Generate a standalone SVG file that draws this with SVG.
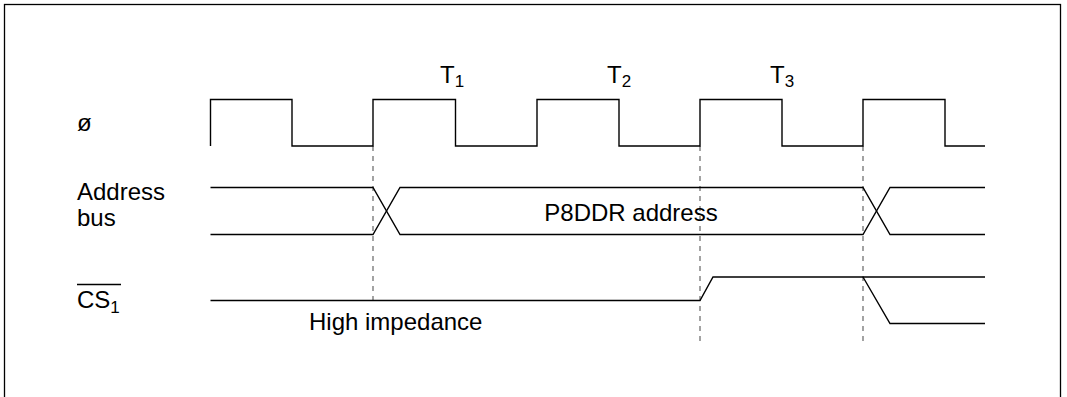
<svg xmlns="http://www.w3.org/2000/svg" width="1067" height="397" viewBox="0 0 1067 397">
<style>
.w{fill:none;stroke:#000;stroke-width:1.4;stroke-linejoin:miter}
.d{fill:none;stroke:#666;stroke-width:1.2;stroke-dasharray:5 5}
.t{font-family:"Liberation Sans",Arial,sans-serif;font-size:24px;fill:#000}
.s{font-size:17px}
</style>
<rect x="0" y="0" width="1067" height="397" fill="#fff"/>
<rect x="4.5" y="4.5" width="1056" height="420" fill="none" stroke="#000" stroke-width="1.3"/>
<g id="labels">
<text class="t" x="77" y="131">ø</text>
<text class="t" x="77" y="200">Address</text>
<text class="t" x="77" y="226">bus</text>
<text class="t" x="77" y="308" font-size="22">CS<tspan class="s" dy="5">1</tspan></text>
<line x1="77" y1="284.5" x2="121" y2="284.5" stroke="#000" stroke-width="1.3"/>
</g>
<g id="cycles">
<text class="t" x="440" y="83">T<tspan class="s" dy="4">1</tspan></text>
<text class="t" x="607" y="83">T<tspan class="s" dy="4">2</tspan></text>
<text class="t" x="770" y="83">T<tspan class="s" dy="4">3</tspan></text>
</g>
<g id="guides">
<line class="d" x1="373" y1="146" x2="373" y2="300"/>
<line class="d" x1="700" y1="146" x2="700" y2="343"/>
<line class="d" x1="863" y1="146" x2="863" y2="343"/>
</g>
<g id="clock">
<polyline class="w" points="210.5,146 210.5,99.5 292,99.5 292,146 373,146 373,99.5 455.5,99.5 455.5,146 537,146 537,99.5 619,99.5 619,146 700,146 700,99.5 782,99.5 782,146 863,146 863,99.5 945,99.5 945,146 985,146"/>
</g>
<g id="address-bus">
<polyline class="w" points="210.5,187.5 373,187.5 400,234.5 863,234.5 890,187.5 985,187.5"/>
<polyline class="w" points="210.5,234.5 373,234.5 400,187.5 863,187.5 890,234.5 985,234.5"/>
<text class="t" x="631" y="220.5" text-anchor="middle">P8DDR address</text>
</g>
<g id="cs1">
<polyline class="w" points="210.5,300.5 700,300.5 713,277 985,277"/>
<polyline class="w" points="863,277 890,323.5 985,323.5"/>
<text class="t" x="309" y="330">High impedance</text>
</g>
</svg>
